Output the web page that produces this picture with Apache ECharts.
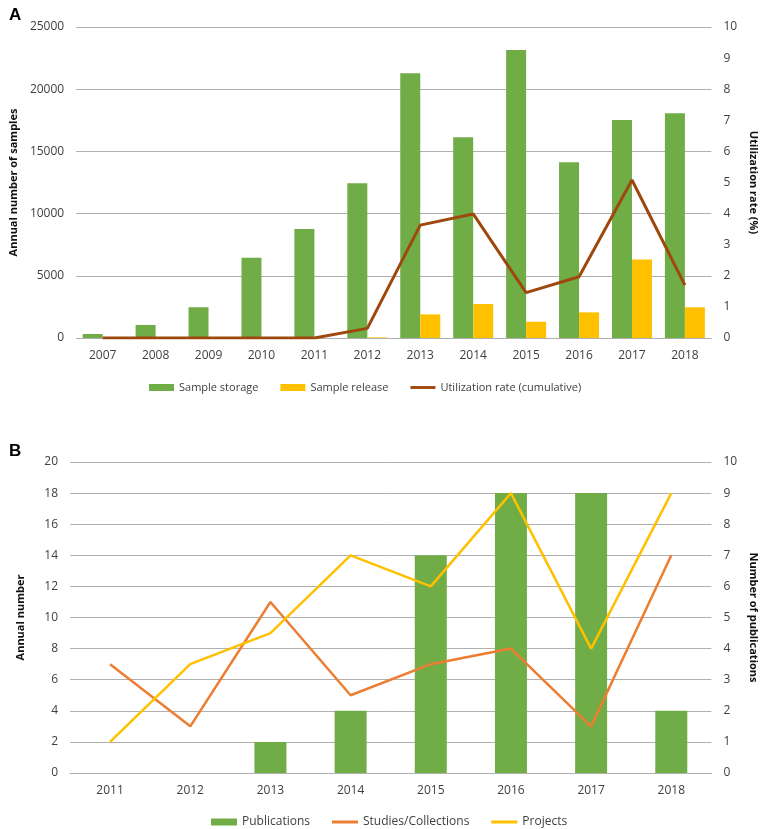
<!DOCTYPE html>
<html><head><meta charset="utf-8">
<script src="https://cdn.jsdelivr.net/npm/echarts@6/dist/echarts.min.js"></script>
<style>html,body{margin:0;padding:0;background:#fff}#c{width:767px;height:829px}</style>
</head><body><div id="c"></div>
<script>
var yearsA = ['2007','2008','2009','2010','2011','2012','2013','2014','2015','2016','2017','2018'];
var sampleStorage = [320, 1050, 2470, 6460, 8760, 12430, 21280, 16130, 23150, 14120, 17520, 18060];
var sampleRelease = [0, 0, 0, 0, 0, 50, 1900, 2730, 1310, 2060, 6320, 2470];
var utilizationRate = [0, 0, 0, 0, 0, 0.31, 3.63, 3.99, 1.46, 1.97, 5.08, 1.70];

var yearsB = ['2011','2012','2013','2014','2015','2016','2017','2018'];
var publications = [0, 0, 1, 2, 7, 9, 9, 2];
var studies = [7, 3, 11, 5, 7, 8, 3, 14];
var projects = [2, 7, 9, 14, 12, 18, 8, 18];

var FONT = 'Open Sans';
var tickColor = '#404040';
var gridColor = '#b0b0b0';
var LINE_ICON = 'path://M0,0H26V3H0Z';

var chart = echarts.init(document.getElementById('c'), null, {renderer: 'canvas'});

function catAxis(grid, data) {
  return {
    type: 'category', gridIndex: grid, data: data,
    axisLine: {show: true, lineStyle: {color: gridColor, width: 1}},
    axisTick: {show: false},
    axisLabel: {color: tickColor, fontFamily: FONT, fontSize: 12, margin: 12}
  };
}
function valAxis(grid, pos, max, interval, name, split, nameGap, nameRotate) {
  return {
    type: 'value', gridIndex: grid, position: pos, min: 0, max: max, interval: interval,
    name: name, nameLocation: 'middle', nameGap: nameGap, nameRotate: nameRotate,
    nameTextStyle: {color: '#111', fontFamily: FONT, fontSize: 11, fontWeight: 'bold'},
    axisLine: {show: false}, axisTick: {show: false},
    axisLabel: {color: tickColor, fontFamily: FONT, fontSize: 12, margin: 12,
                formatter: function (v) { return String(v); }},
    splitLine: {show: split, lineStyle: {color: gridColor, width: 1}}
  };
}

var option = {
  animation: false,
  backgroundColor: '#fff',
  title: [
    {text: 'A', left: 4, top: 2, textStyle: {fontFamily: 'Liberation Sans', fontSize: 17, fontWeight: 'bold', color: '#000'}},
    {text: 'B', left: 4, top: 438, textStyle: {fontFamily: 'Liberation Sans', fontSize: 17, fontWeight: 'bold', color: '#000'}}
  ],
  grid: [
    {left: 67, width: 646, top: 27, height: 311},
    {left: 70, width: 643, top: 462, height: 311}
  ],
  legend: [
    {top: 377, left: 144, itemWidth: 25, itemHeight: 7, itemGap: 22, symbolKeepAspect: true,
     textStyle: {color: tickColor, fontFamily: FONT, fontSize: 11},
     data: [{name: 'Sample storage', icon: 'rect'}, {name: 'Sample release', icon: 'rect'},
            {name: 'Utilization rate (cumulative)', icon: LINE_ICON}]},
    {top: 811, left: 206, itemWidth: 26, itemHeight: 7, itemGap: 22, symbolKeepAspect: true,
     textStyle: {color: tickColor, fontFamily: FONT, fontSize: 12},
     data: [{name: 'Publications', icon: 'rect'}, {name: 'Studies/Collections', icon: LINE_ICON},
            {name: 'Projects', icon: LINE_ICON}]}
  ],
  xAxis: [catAxis(0, yearsA), catAxis(1, yearsB)],
  yAxis: [
    valAxis(0, 'left', 25000, 5000, 'Annual number of samples', true, 52, 90),
    valAxis(0, 'right', 10, 1, 'Utilization rate (%)', false, 32, -90),
    valAxis(1, 'left', 20, 2, 'Annual number', true, 44, 90),
    valAxis(1, 'right', 10, 1, 'Number of publications', false, 32, -90)
  ],
  series: [
    {name: 'Sample storage', type: 'bar', xAxisIndex: 0, yAxisIndex: 0, data: sampleStorage,
     barWidth: 20, barGap: '0%', itemStyle: {color: '#70AD47'}},
    {name: 'Sample release', type: 'bar', xAxisIndex: 0, yAxisIndex: 0, data: sampleRelease,
     barWidth: 20, barGap: '0%', itemStyle: {color: '#FFC000'}},
    {name: 'Utilization rate (cumulative)', type: 'line', xAxisIndex: 0, yAxisIndex: 1, data: utilizationRate,
     symbol: 'none', lineStyle: {color: '#9E480E', width: 3}, itemStyle: {color: '#9E480E'}},
    {name: 'Publications', type: 'bar', xAxisIndex: 1, yAxisIndex: 3, data: publications,
     barWidth: 32, itemStyle: {color: '#70AD47'}},
    {name: 'Studies/Collections', type: 'line', xAxisIndex: 1, yAxisIndex: 2, data: studies,
     symbol: 'none', lineStyle: {color: '#ED7D31', width: 2.5}, itemStyle: {color: '#ED7D31'}},
    {name: 'Projects', type: 'line', xAxisIndex: 1, yAxisIndex: 2, data: projects,
     symbol: 'none', lineStyle: {color: '#FFC000', width: 2.5}, itemStyle: {color: '#FFC000'}}
  ]
};
chart.setOption(option);
</script></body></html>
